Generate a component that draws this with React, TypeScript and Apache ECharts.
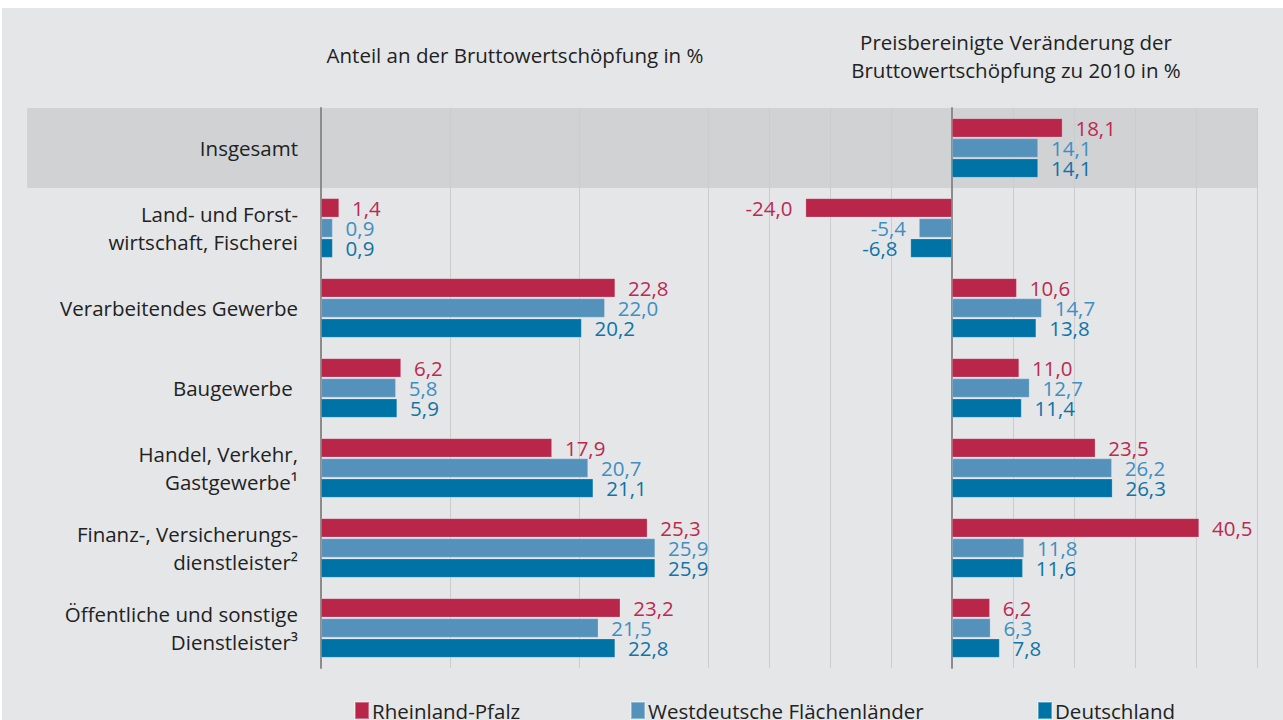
import React, { useEffect, useRef } from "react";
import * as echarts from "echarts";

const categories = [
  "Insgesamt",
  "Land- und Forst-\nwirtschaft, Fischerei",
  "Verarbeitendes Gewerbe",
  "Baugewerbe ",
  "Handel, Verkehr,\nGastgewerbe¹",
  "Finanz-, Versicherungs-\ndienstleister²",
  "Öffentliche und sonstige\nDienstleister³",
];

const seriesNames = ["Rheinland-Pfalz", "Westdeutsche Flächenländer", "Deutschland"];

// Anteil an der Bruttowertschöpfung in %
const shareRP = [null, 1.4, 22.8, 6.2, 17.9, 25.3, 23.2];
const shareWest = [null, 0.9, 22.0, 5.8, 20.7, 25.9, 21.5];
const shareDE = [null, 0.9, 20.2, 5.9, 21.1, 25.9, 22.8];

// Preisbereinigte Veränderung zu 2010 in %
const changeRP = [18.1, -24.0, 10.6, 11.0, 23.5, 40.5, 6.2];
const changeWest = [14.1, -5.4, 14.7, 12.7, 26.2, 11.8, 6.3];
const changeDE = [14.1, -6.8, 13.8, 11.4, 26.3, 11.6, 7.8];

const barColors = ["#b8264a", "#5592bb", "#0073a6"];
const labelColors = ["#bc2a50", "#3f8fc2", "#0f74a8"];

const FONT = "Open Sans";

export default function App() {
  const ref = useRef<HTMLDivElement>(null);

  useEffect(() => {
    if (!ref.current) return;
    const chart = echarts.init(ref.current, undefined, { renderer: "svg" });

    const fmt = (v: number) => v.toFixed(1).replace(".", ",");

    const mkData = (arr: (number | null)[]) =>
      arr.map((v) =>
        v === null
          ? null
          : {
              value: v,
              label: { position: v < 0 ? "left" : "right" },
            }
      );

    const mkSeries = (name: string, data: (number | null)[], idx: number, axis: number) => ({
      name,
      type: "bar",
      xAxisIndex: axis,
      yAxisIndex: axis,
      barWidth: 19,
      barGap: "6%",
      data: mkData(data),
      itemStyle: { color: barColors[idx], borderColor: "rgba(255,255,255,0.35)", borderWidth: 0.6 },
      label: {
        show: true,
        distance: 13,
        color: labelColors[idx],
        fontFamily: FONT,
        fontSize: 20.5,
        lineHeight: 20,
        formatter: (p: any) => fmt(p.value),
      },
    });

    const splitLine = { show: true, lineStyle: { color: "#cbccce", width: 1 } };

    const option: any = {
      animation: false,
      textStyle: { fontFamily: FONT },
      graphic: [
        {
          type: "rect",
          z: -10,
          silent: true,
          shape: { x: 2, y: 8, width: 1281, height: 712 },
          style: { fill: "#e5e6e8" },
        },
        {
          type: "rect",
          z: -5,
          silent: true,
          shape: { x: 27, y: 108, width: 1230, height: 80 },
          style: { fill: "#d1d2d4" },
        },
        {
          type: "text",
          x: 515,
          y: 55,
          style: {
            text: "Anteil an der Bruttowertschöpfung in %",
            fontFamily: FONT,
            fontSize: 20.5,
            fill: "#222",
            align: "center",
            verticalAlign: "middle",
          },
        },
        {
          type: "text",
          x: 1016,
          y: 56,
          style: {
            text: "Preisbereinigte Veränderung der\nBruttowertschöpfung zu 2010 in %",
            fontFamily: FONT,
            fontSize: 20.5,
            lineHeight: 28,
            fill: "#222",
            align: "center",
            verticalAlign: "middle",
          },
        },
      ],
      legend: seriesNames.map((n, i) => ({
        data: [n],
        left: [354, 630, 1037][i],
        top: 700,
        padding: 0,
        icon: "rect",
        itemWidth: 14,
        itemHeight: 17,
        selectedMode: false,
        textStyle: {
          fontFamily: FONT,
          fontSize: 20.5,
          lineHeight: 17,
          color: "#222",
          padding: [0, 0, 0, -2],
        },
      })),
      grid: [
        { left: 321, top: 108, width: 387, height: 560 },
        { left: 708, top: 108, width: 549, height: 560 },
      ],
      xAxis: [
        {
          gridIndex: 0,
          type: "value",
          min: 0,
          max: 30,
          interval: 10,
          axisLabel: { show: false },
          axisLine: { show: false },
          axisTick: { show: false },
          splitLine,
        },
        {
          gridIndex: 1,
          type: "value",
          min: -40,
          max: 50,
          interval: 10,
          axisLabel: { show: false },
          axisLine: { show: false },
          axisTick: { show: false },
          splitLine,
        },
      ],
      yAxis: [
        {
          gridIndex: 0,
          type: "category",
          inverse: true,
          data: categories,
          axisTick: { show: false },
          axisLine: { show: true, lineStyle: { color: "#8c8c8c", width: 2 } },
          axisLabel: {
            margin: 23,
            fontFamily: FONT,
            fontSize: 20.5,
            lineHeight: 28,
            color: "#222",
            align: "right",
          },
        },
        {
          gridIndex: 1,
          type: "category",
          inverse: true,
          data: categories,
          axisTick: { show: false },
          axisLabel: { show: false },
          axisLine: { show: true, onZero: true, lineStyle: { color: "#8c8c8c", width: 2 } },
        },
      ],
      series: [
        mkSeries(seriesNames[0], shareRP, 0, 0),
        mkSeries(seriesNames[1], shareWest, 1, 0),
        mkSeries(seriesNames[2], shareDE, 2, 0),
        mkSeries(seriesNames[0], changeRP, 0, 1),
        mkSeries(seriesNames[1], changeWest, 1, 1),
        mkSeries(seriesNames[2], changeDE, 2, 1),
      ],
    };

    chart.setOption(option);
    return () => chart.dispose();
  }, []);

  return (
    <div
      ref={ref}
      style={{ position: "fixed", left: 0, top: 0, width: 1283, height: 720, background: "#fff" }}
    />
  );
}
